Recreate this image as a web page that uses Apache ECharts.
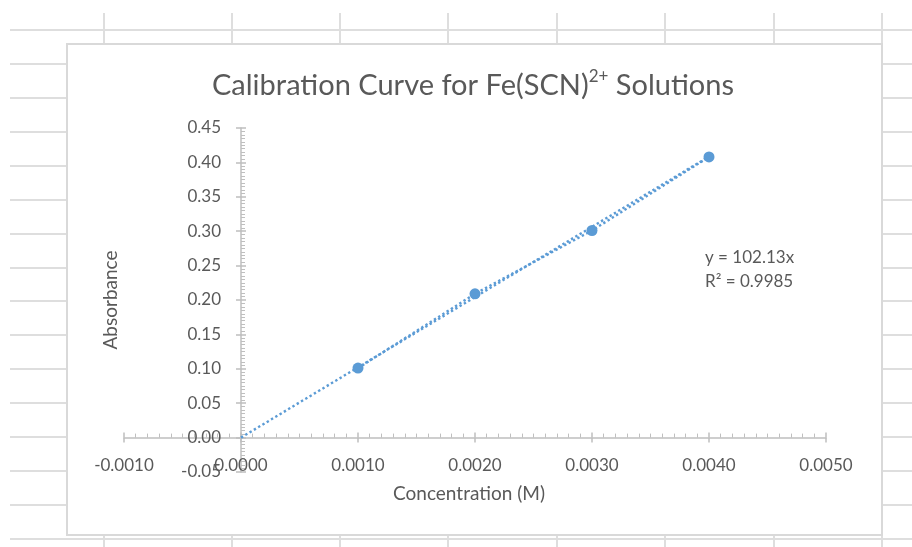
<!DOCTYPE html>
<html><head><meta charset="utf-8">
<script src="https://cdn.jsdelivr.net/npm/echarts@6/dist/echarts.min.js"></script>
<style>html,body{margin:0;padding:0;background:#fff}#c{width:912px;height:547px}</style>
</head><body><div id="c"></div>
<script>
// ---- data ----
const concentration = [0.001, 0.002, 0.003, 0.004];
const absorbance = [0.101, 0.209, 0.301, 0.408];
const trendX = [0, 0.004];
const trendY = [0, 0.40852];
const xTickLabels = ['-0.0010', '0.0000', '0.0010', '0.0020', '0.0030', '0.0040', '0.0050'];
const yTickLabels = ['-0.05', '0.00', '0.05', '0.10', '0.15', '0.20', '0.25', '0.30', '0.35', '0.40', '0.45'];
const equationLines = ['y = 102.13x', 'R\u00b2 = 0.9985'];

const xMin = -0.001, xMax = 0.005, xStep = 0.001;
const yMin = -0.05, yMax = 0.45, yStep = 0.05;

const FONT = 'Lato';
const TXT = '#595959';
const AX = '#bfbfbf';
const BLUE = '#5b9bd5';

// plot area layout (pixels)
const W = 912, H = 547;
const GL = 124, GR = 86, GT = 128, GB = 75;
const GW = W - GL - GR, GH = H - GT - GB;
const X0 = GL + (0 - xMin) / (xMax - xMin) * GW;   // pixel of x = 0
const Y0 = GT + (yMax - 0) / (yMax - yMin) * GH;   // pixel of y = 0

// spreadsheet background decoration
const sheetCols = [104, 232, 340, 448, 557, 665, 774, 882];
const sheetRows = [];
for (let i = 0; i < 16; i++) sheetRows.push(Math.round(30 + i * 33.93));

const graphics = [];
sheetRows.forEach(y => graphics.push({type:'line', z:-20, shape:{x1:10,y1:y,x2:912,y2:y}, style:{stroke:'#dedede', lineWidth:2}}));
sheetCols.forEach(x => graphics.push({type:'line', z:-20, shape:{x1:x,y1:13,x2:x,y2:547}, style:{stroke:'#dedede', lineWidth:2}}));
graphics.push({type:'rect', z:-10, shape:{x:67,y:44,width:815,height:491}, style:{fill:'#fff', stroke:'#d9d9d9', lineWidth:2}});
graphics.push({type:'text', z:10, left:705, top:246, style:{text:equationLines.join('\n'), font:'17px ' + FONT, fill:TXT, lineHeight:24}});

const pts = concentration.map((c, i) => [c, absorbance[i]]);
const trend = trendX.map((c, i) => [c, trendY[i]]);

const xFmt = v => xTickLabels[Math.round((v - xMin) / xStep)];
const yFmt = v => yTickLabels[Math.round((v - yMin) / yStep)];

const tickLine = {color: AX, width: 1.5};
const chart = echarts.init(document.getElementById('c'));
chart.setOption({
  animation: false,
  backgroundColor: '#fff',
  textStyle: {fontFamily: FONT},
  graphic: graphics,
  title: {
    text: '{a|Calibration Curve for Fe(SCN)}{s|2+}{a| Solutions}',
    left: 468, top: 63, textAlign: 'center',
    textStyle: {
      fontWeight: 'normal',
      rich: {
        a: {fontFamily: FONT, fontSize: 29, fontWeight: 'normal', color: TXT, lineHeight: 36},
        s: {fontFamily: FONT, fontSize: 17, fontWeight: 'normal', color: TXT, verticalAlign: 'top', lineHeight: 26}
      }
    }
  },
  grid: [
    {left: GL, right: GR, top: GT, bottom: GB, containLabel: false, outerBoundsMode: 'none'},
    {left: X0, width: 20, top: GT, bottom: GB, containLabel: false, outerBoundsMode: 'none'},
    {left: GL, right: GR, top: Y0 - 20, bottom: H - Y0, containLabel: false, outerBoundsMode: 'none'}
  ],
  xAxis: [
    {gridIndex: 0, type: 'value', min: xMin, max: xMax, interval: xStep, show: false},
    {gridIndex: 1, type: 'value', min: 0, max: 1, show: false},
    {gridIndex: 2, type: 'value', min: xMin, max: xMax, interval: xStep, position: 'bottom',
      name: 'Concentration (M)', nameLocation: 'middle', nameGap: 47,
      nameTextStyle: {fontFamily: FONT, fontSize: 19, color: TXT, padding: [0, 12, 0, 0]},
      axisLine: {show: true, onZero: false, lineStyle: {color: AX, width: 1.5}},
      axisTick: {show: true, inside: true, length: 5, lineStyle: tickLine},
      minorTick: {show: true, splitNumber: 10, length: 4, lineStyle: {color: AX, width: 1}},
      axisLabel: {formatter: xFmt, fontFamily: FONT, fontSize: 17, color: TXT, margin: 19},
      splitLine: {show: false}},
    {gridIndex: 2, type: 'value', min: xMin, max: xMax, interval: xStep, position: 'bottom',
      axisLine: {show: false, onZero: false},
      axisTick: {show: true, inside: false, length: 5, lineStyle: tickLine},
      axisLabel: {show: false}, splitLine: {show: false}}
  ],
  yAxis: [
    {gridIndex: 0, type: 'value', min: yMin, max: yMax, interval: yStep, show: false},
    {gridIndex: 1, type: 'value', min: yMin, max: yMax, interval: yStep, position: 'left',
      name: 'Absorbance', nameLocation: 'middle', nameGap: 121, nameRotate: 90,
      nameTextStyle: {fontFamily: FONT, fontSize: 19, color: TXT},
      axisLine: {show: true, onZero: false, lineStyle: {color: AX, width: 1.5}},
      axisTick: {show: true, inside: true, length: 5, lineStyle: tickLine},
      minorTick: {show: true, splitNumber: 10, length: 4, lineStyle: {color: AX, width: 1}},
      axisLabel: {formatter: yFmt, fontFamily: FONT, fontSize: 17, color: TXT, margin: 20},
      splitLine: {show: false}},
    {gridIndex: 1, type: 'value', min: yMin, max: yMax, interval: yStep, position: 'left',
      axisLine: {show: false, onZero: false},
      axisTick: {show: true, inside: false, length: 5, lineStyle: tickLine},
      axisLabel: {show: false}, splitLine: {show: false}},
    {gridIndex: 2, type: 'value', min: 0, max: 1, show: false}
  ],
  series: [{
    name: 'Trendline', type: 'line', xAxisIndex: 0, yAxisIndex: 0, data: trend, showSymbol: false, symbol: 'none',
    lineStyle: {color: BLUE, width: 2.4, type: [2.4, 2.6]}, z: 3
  }, {
    name: 'Absorbance', type: 'line', xAxisIndex: 0, yAxisIndex: 0, data: pts, symbol: 'circle', symbolSize: 11,
    itemStyle: {color: BLUE}, lineStyle: {color: BLUE, width: 2.4, type: [2.4, 2.6]}, z: 4
  }]
});
</script></body></html>
